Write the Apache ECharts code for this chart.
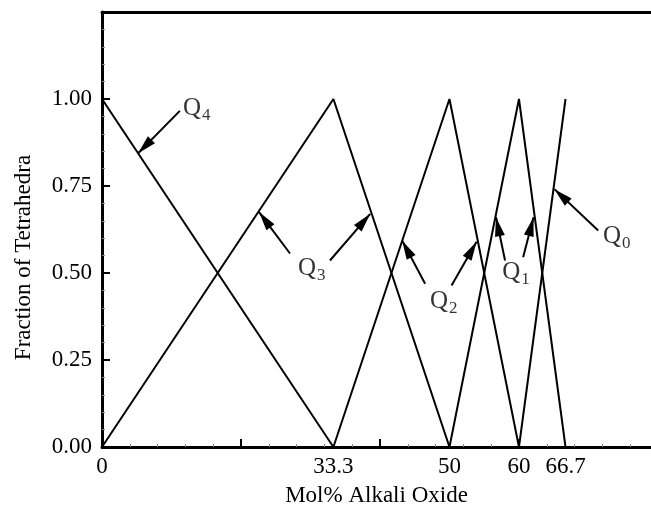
<!DOCTYPE html>
<html>
<head>
<meta charset="utf-8">
<script src="https://cdn.jsdelivr.net/npm/echarts@6/dist/echarts.min.js"></script>
<style>html,body{margin:0;padding:0;background:#fff}#c{width:651px;height:512px}</style>
</head>
<body>
<div id="c"></div>
<script>
// ---- data ----
const xMin = 0, xMax = 79;
const yMin = 0, yMax = 1.25;
const xTickValues = [0, 20, 40, 60];
const xLabelValues = [0, 33.3, 50, 60, 66.7];
const yLabelValues = [0, 0.25, 0.5, 0.75, 1.0];
const q4 = [[0, 1], [33.3, 0]];
const q3 = [[0, 0], [33.3, 1], [50, 0]];
const q2 = [[33.3, 0], [50, 1], [60, 0]];
const q1 = [[50, 0], [60, 1], [66.7, 0]];
const q0 = [[60, 0], [66.7, 1]];
// annotation labels: [x, y, subscript]
const labelPoints = [[11.65, 0.974, '4'], [28.2, 0.513, '3'], [47.2, 0.418, '2'], [57.6, 0.501, '1'], [72.1, 0.605, '0']];
// arrows: [tailX, tailY, tipX, tipY]
const arrows = [
  [11.2, 0.966, 5.2, 0.844],
  [27.05, 0.556, 22.6, 0.675],
  [32.8, 0.536, 38.6, 0.67],
  [46.5, 0.469, 43.2, 0.593],
  [50.3, 0.464, 53.9, 0.59],
  [58.0, 0.536, 56.7, 0.66],
  [60.6, 0.545, 62.1, 0.66],
  [71.4, 0.622, 65.1, 0.741]
];
const xName = 'Mol% Alkali Oxide';
const yName = 'Fraction of Tetrahedra';

const FONT = 'Liberation Serif';
const chart = echarts.init(document.getElementById('c'), null, {renderer: 'canvas'});
const lineSeries = (name, d) => ({
  name, type: 'line', data: d, symbol: 'none', animation: false, silent: true,
  lineStyle: {color: '#000', width: 2}
});
chart.setOption({
  backgroundColor: '#fff',
  animation: false,
  grid: {left: 102, right: 0, top: 12, bottom: 65},
  xAxis: [{
    type: 'value', min: xMin, max: xMax, interval: 20,
    name: xName, nameLocation: 'middle', nameGap: 37,
    nameTextStyle: {fontFamily: FONT, fontSize: 23, color: '#000'},
    axisLine: {show: true, onZero: false, lineStyle: {color: '#000', width: 3}},
    axisTick: {show: true, inside: true, length: 8, lineStyle: {color: '#000', width: 2}, customValues: xTickValues},
    minorTick: {show: true, splitNumber: 5, length: 3, lineStyle: {color: '#888', width: 1}},
    axisLabel: {customValues: xLabelValues, fontFamily: FONT, fontSize: 23, color: '#000', margin: 8,
      formatter: v => String(v)},
    splitLine: {show: false}
  }, {
    type: 'value', position: 'top', min: xMin, max: xMax,
    axisLine: {show: true, onZero: false, lineStyle: {color: '#000', width: 3}},
    axisTick: {show: false}, axisLabel: {show: false}, splitLine: {show: false}
  }],
  yAxis: {
    type: 'value', min: yMin, max: yMax, interval: 0.25,
    name: yName, nameLocation: 'middle', nameGap: 67,
    nameTextStyle: {fontFamily: FONT, fontSize: 23, color: '#000', padding: [0, 56, 0, 0]},
    axisLine: {show: true, onZero: false, lineStyle: {color: '#000', width: 3}},
    axisTick: {show: true, inside: true, length: 8, lineStyle: {color: '#000', width: 2}, customValues: yLabelValues},
    minorTick: {show: true, splitNumber: 5, length: 3, lineStyle: {color: '#888', width: 1}},
    axisLabel: {customValues: yLabelValues, fontFamily: FONT, fontSize: 23, color: '#000', margin: 10,
      formatter: v => v.toFixed(2)},
    splitLine: {show: false}
  },
  series: [
    lineSeries('Q4', q4), lineSeries('Q3', q3), lineSeries('Q2', q2), lineSeries('Q1', q1), lineSeries('Q0', q0),
    {
      type: 'scatter', silent: true, symbolSize: 0,
      data: labelPoints.map(p => ({value: [p[0], p[1]], sub: p[2]})),
      label: {
        show: true, position: 'right', distance: 0,
        formatter: p => '{q|Q}{s|' + p.data.sub + '}',
        rich: {
          q: {fontFamily: FONT, fontSize: 25, color: '#000'},
          s: {fontFamily: FONT, fontSize: 17, color: '#000', padding: [14, 0, 0, 1]}
        }
      }
    },
    {
      type: 'line', data: [], silent: true,
      markLine: {
        silent: true, animation: false,
        label: {show: false},
        lineStyle: {color: '#000', width: 2, type: 'solid'},
        emphasis: {disabled: true},
        data: arrows.map(a => [
          {coord: [a[0], a[1]], symbol: 'none'},
          {coord: [a[2], a[3]], symbol: 'triangle', symbolSize: [10, 19], symbolOffset: [0, 9.5]}
        ])
      }
    }
  ]
});
</script>
</body>
</html>
